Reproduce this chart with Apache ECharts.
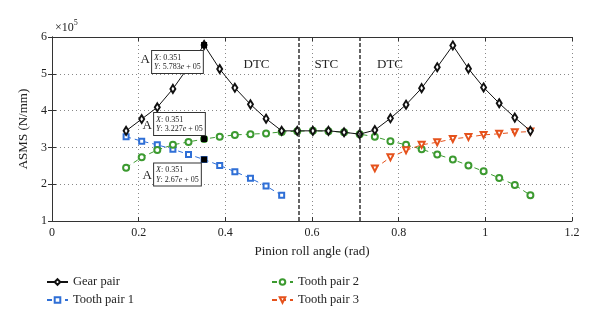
<!DOCTYPE html>
<html><head><meta charset="utf-8">
<script src="https://cdn.jsdelivr.net/npm/echarts@6/dist/echarts.min.js"></script>
<style>html,body{margin:0;padding:0;background:#fff}#c{width:600px;height:328px}</style>
</head><body><div id="c"></div>
<script>
const xVals = [0.171,0.207,0.243,0.279,0.315,0.351,0.387,0.422,0.458,0.494,0.530,0.566,0.602,0.638,0.674,0.710,0.745,0.781,0.817,0.853,0.889,0.925,0.961,0.996,1.032,1.068,1.104];
const gearPair = [3.45,3.77,4.09,4.59,5.19,5.783,5.13,4.62,4.17,3.78,3.45,3.45,3.45,3.45,3.41,3.36,3.47,3.79,4.16,4.61,5.18,5.77,5.14,4.63,4.20,3.81,3.45];
const toothPair1 = [3.29,3.17,3.07,2.95,2.81,2.67,2.51,2.34,2.16,1.95,1.70,null,null,null,null,null,null,null,null,null,null,null,null,null,null,null,null];
const toothPair2 = [2.45,2.73,2.93,3.07,3.15,3.227,3.29,3.34,3.36,3.38,3.42,3.44,3.45,3.44,3.41,3.36,3.29,3.17,3.07,2.95,2.81,2.67,2.51,2.35,2.17,1.98,1.70];
const toothPair3 = [null,null,null,null,null,null,null,null,null,null,null,null,null,null,null,null,2.43,2.73,2.92,3.07,3.14,3.23,3.28,3.34,3.37,3.41,3.43];
const seriesNames = ['Gear pair','Tooth pair 1','Tooth pair 2','Tooth pair 3'];
const boundaries = [0.566, 0.710];
const regionLabels = ['DTC','STC','DTC'];
const regionX = [0.472, 0.633, 0.780];
const regionY = 5.24;
const tipIndex = 5;
const xTicks = {min:0, max:1.2, interval:0.2};
const yTicks = {min:1, max:6, interval:1};

const FONT = 'Liberation Serif';
const TXT = '#222';
const pairs = v => xVals.map((x,i)=> v[i]==null ? null : [x, v[i]]).filter(Boolean);
const fmtTick = v => String(+v.toFixed(2));

function tip(val, pos, aPos){
  return [
    {coord:[xVals[tipIndex], val], symbol:'rect', symbolSize:6, itemStyle:{color:'#000'},
     label:{show:true, position:pos, formatter:'{i|X}{t|: '+xVals[tipIndex].toFixed(3)+'}\n{i|Y}{t|: '+val+'}{i|e}{t| + 05}',
       backgroundColor:'#fff', borderColor:'#333', borderWidth:1, padding:[2,2,1,2], lineHeight:9.5,
       rich:{i:{fontFamily:FONT,fontStyle:'italic',fontSize:8,color:TXT,lineHeight:9.5},t:{fontFamily:FONT,fontSize:8,color:TXT,lineHeight:9.5}}}},
    {coord:[xVals[tipIndex], val], symbol:'circle', symbolSize:1, itemStyle:{color:'rgba(0,0,0,0)'},
     label:{show:true, position:aPos, formatter:'A', fontFamily:FONT, fontSize:13, color:TXT}}
  ];
}

const regionMarks = regionLabels.map((t,i)=>({coord:[regionX[i], regionY], symbol:'circle', symbolSize:1, itemStyle:{color:'rgba(0,0,0,0)'},
  label:{show:true, position:'inside', formatter:t, fontFamily:FONT, fontSize:13, color:TXT}}));

const chart = echarts.init(document.getElementById('c'), null, {renderer:'canvas'});
const axisCommon = {
  axisLine:{show:true, lineStyle:{color:'#333', width:1}},
  axisTick:{show:true, inside:true, length:4, lineStyle:{color:'#333'}},
};
const legendCommon = {orient:'vertical', top:275, padding:0, itemWidth:21, itemHeight:7, itemGap:4,
  textStyle:{fontFamily:FONT, fontSize:12.5, color:TXT, lineHeight:14}};
chart.setOption({
  animation:false,
  backgroundColor:'#fff',
  grid:{left:52, right:28, top:37, bottom:107, containLabel:false},
  graphic:[{type:'text', left:55, top:19, style:{text:'{a|×10}{b|5}', rich:{a:{fontFamily:FONT,fontSize:12,fill:TXT},b:{fontFamily:FONT,fontSize:8,fill:TXT,padding:[0,0,9,0]}}}}],
  legend:[
    Object.assign({data:seriesNames.slice(0,2), left:46}, legendCommon),
    Object.assign({data:seriesNames.slice(2,4), left:271}, legendCommon)
  ],
  xAxis:[
    Object.assign({type:'value', min:xTicks.min, max:xTicks.max, interval:xTicks.interval, position:'bottom',
      name:'Pinion roll angle (rad)', nameLocation:'middle', nameGap:24,
      nameTextStyle:{fontFamily:FONT, fontSize:13, color:TXT},
      axisLabel:{fontFamily:FONT, fontSize:12, color:TXT, margin:6, formatter:fmtTick},
      splitLine:{show:true, lineStyle:{type:[1,3], color:'#888'}}}, axisCommon),
    Object.assign({type:'value', min:xTicks.min, max:xTicks.max, interval:xTicks.interval, position:'top',
      axisLabel:{show:false}, splitLine:{show:false}}, axisCommon)
  ],
  yAxis:[
    Object.assign({type:'value', min:yTicks.min, max:yTicks.max, interval:yTicks.interval, position:'left',
      name:'ASMS (N/mm)', nameLocation:'middle', nameGap:22,
      nameTextStyle:{fontFamily:FONT, fontSize:13, color:TXT},
      axisLabel:{fontFamily:FONT, fontSize:12, color:TXT, margin:5},
      splitLine:{show:true, lineStyle:{type:[1,3], color:'#888'}}}, axisCommon),
    Object.assign({type:'value', min:yTicks.min, max:yTicks.max, interval:yTicks.interval, position:'right',
      axisLabel:{show:false}, splitLine:{show:false}}, axisCommon)
  ],
  series:[
    {name:seriesNames[0], type:'line', data:pairs(gearPair), symbol:'emptyDiamond', symbolSize:[5,8],
     color:'#111', lineStyle:{color:'#111', width:1}, itemStyle:{color:'#111', borderWidth:1}, z:4,
     markLine:{silent:true, symbol:'none', label:{show:false}, lineStyle:{color:'#333', type:[4,2], width:1.5},
       data:boundaries.map(b=>({xAxis:b}))},
     markPoint:{silent:true, z:10, data:regionMarks}},
    {name:seriesNames[1], type:'line', data:pairs(toothPair1), symbol:'emptyRect', symbolSize:5,
     color:'#2f6fd6', lineStyle:{color:'#2f6fd6', width:1, type:[5,4]}, itemStyle:{color:'#2f6fd6', borderWidth:1}, z:3},
    {name:seriesNames[2], type:'line', data:pairs(toothPair2), symbol:'emptyCircle', symbolSize:6,
     color:'#3c9a30', lineStyle:{color:'#3c9a30', width:1, type:[5,4]}, itemStyle:{color:'#3c9a30', borderWidth:1}, z:3},
    {name:seriesNames[3], type:'line', data:pairs(toothPair3), symbol:'emptyTriangle', symbolSize:6, symbolRotate:180,
     color:'#e5521c', lineStyle:{color:'#e5521c', width:1, type:[5,4]}, itemStyle:{color:'#e5521c', borderWidth:1}, z:3},
    {name:'tips', type:'line', data:[], z:6,
     markPoint:{silent:true, z:10, data:[].concat(
       tip(gearPair[tipIndex], [-49,9], [-63,9]),
       tip(toothPair2[tipIndex], [-47,-23], [-61,-19]),
       tip(toothPair1[tipIndex], [-47,7], [-61,10]))}}
  ]
});
</script></body></html>
